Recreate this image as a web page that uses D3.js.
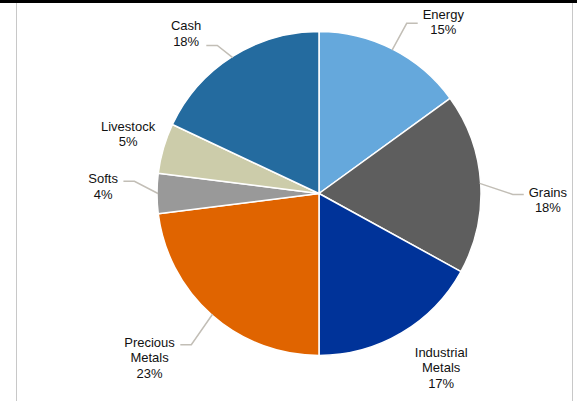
<!DOCTYPE html>
<html>
<head>
<meta charset="utf-8">
<script src="https://cdn.jsdelivr.net/npm/d3@7"></script>
<style>
  html, body { margin: 0; padding: 0; background: #fff; }
  svg { display: block; }
  text { font-family: "Liberation Sans", Arial, sans-serif; font-size: 13px; fill: #111; }
</style>
</head>
<body>
<svg id="chart" width="577" height="401"></svg>
<script>
// Portfolio allocation by sector (percent)
const categories = ["Energy", "Grains", "Industrial Metals", "Precious Metals", "Softs", "Livestock", "Cash"];
const weights = [15, 18, 17, 23, 4, 5, 18];
const colors = ["#65A8DC", "#5E5E5E", "#003399", "#E06400", "#999999", "#CCCCAA", "#246B9F"];
// how each label is broken over lines
const labelLines = [["Energy"], ["Grains"], ["Industrial", "Metals"], ["Precious", "Metals"], ["Softs"], ["Livestock"], ["Cash"]];

// label placement: distance from centre, angular nudge (deg) from slice middle
const labelDist  = [212, 229, 213, 236, 216, 200, 208];
const labelTurn  = [8.9, 5.2, -4.4, 4.5, 1.8, 1.1, -7.3];
// leader lines: which side of the label they attach to and vertical attach offset
const leaderSide = ["left", "left", null, "right", "right", null, "right"];
const leaderDy   = [1.5, -5.5, 0, -13, -5.5, 0, 12];

const W = 577, H = 401;
const cx = 319, cy = 193.5, R = 162;
const lineH = 15.5;

const svg = d3.select("#chart");

// frame: heavy rule on top, thin rules down both sides
svg.append("rect").attr("x", 0).attr("y", 0).attr("width", W).attr("height", 3).attr("fill", "#000");
svg.append("line").attr("x1", 16.5).attr("x2", 16.5).attr("y1", 3).attr("y2", H).attr("stroke", "#c8c8c8").attr("stroke-width", 1);
svg.append("line").attr("x1", 572.5).attr("x2", 572.5).attr("y1", 3).attr("y2", H).attr("stroke", "#c8c8c8").attr("stroke-width", 1);

const data = categories.map((c, i) => ({ name: c, value: weights[i], color: colors[i], i }));

const pie = d3.pie().value(d => d.value).sort(null);
const arcs = pie(data);
const arc = d3.arc().innerRadius(0).outerRadius(R);

const g = svg.append("g").attr("transform", `translate(${cx},${cy})`);

g.selectAll("path.slice")
  .data(arcs)
  .enter().append("path")
  .attr("class", "slice")
  .attr("d", arc)
  .attr("fill", d => d.data.color)
  .attr("stroke", "#fff")
  .attr("stroke-width", 1.5)
  .attr("stroke-linejoin", "round");

const polar = (a, r) => [r * Math.sin(a), -r * Math.cos(a)];
const rad = deg => deg * Math.PI / 180;

const labels = g.append("g");
arcs.forEach(a => {
  const i = a.data.i;
  const mid = (a.startAngle + a.endAngle) / 2;
  const [lx, ly] = polar(mid + rad(labelTurn[i]), labelDist[i]);
  const lines = labelLines[i].concat([a.data.value + "%"]);
  const y0 = ly - (lines.length - 1) * lineH / 2 + 4.5;
  const t = labels.append("text").attr("text-anchor", "middle");
  lines.forEach((s, k) => {
    t.append("tspan").attr("x", lx).attr("y", y0 + k * lineH).text(s);
  });

  if (leaderSide[i]) {
    const bb = t.node().getBBox();
    const gap = 5, run = 11;
    const ex = leaderSide[i] === "left" ? bb.x - gap : bb.x + bb.width + gap;
    const ey = ly + leaderDy[i];
    const bx = leaderSide[i] === "left" ? ex - run : ex + run;
    const [sx, sy] = polar(mid, R - 1);
    g.insert("polyline", "g")
      .attr("points", [[sx, sy], [bx, ey], [ex, ey]].map(p => p.join(",")).join(" "))
      .attr("fill", "none")
      .attr("stroke", "#C2BEB6")
      .attr("stroke-width", 1.5);
  }
});
</script>
</body>
</html>
